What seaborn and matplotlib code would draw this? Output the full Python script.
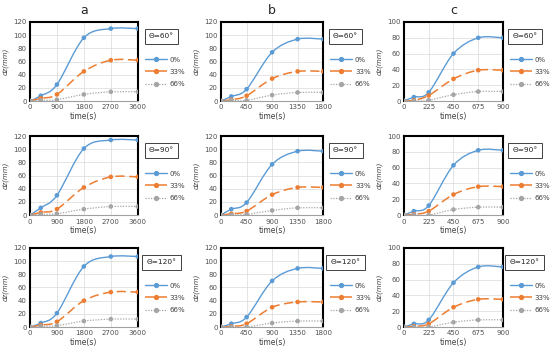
import numpy as np
import pandas as pd
import seaborn as sns
import matplotlib
matplotlib.use("Agg")
import matplotlib.pyplot as plt
from matplotlib.path import Path
from matplotlib.patches import PathPatch
from matplotlib.lines import Line2D

sns.set_theme(style="white")
plt.rcParams['font.family'] = ['DejaVu Sans']

column_titles = ["a", "b", "c"]
angles = ["Θ=60°", "Θ=90°", "Θ=120°"]
series_names = ["0%", "33%", "66%"]
time_a = [0, 360, 900, 1800, 2700, 3600]
time_b = [0, 180, 450, 900, 1350, 1800]
time_c = [0, 90, 225, 450, 675, 900]
xticks_a = [0, 900, 1800, 2700, 3600]
xticks_b = [0, 450, 900, 1350, 1800]
xticks_c = [0, 225, 450, 675, 900]

# row: theta=60
a60_0 = [0, 8, 25, 96, 110, 110]
a60_33 = [0, 4, 10, 45, 62, 62]
a60_66 = [0, 1, 2, 10, 14, 14]
b60_0 = [0, 7, 18, 74, 94, 94]
b60_33 = [0, 2, 8, 34, 45, 45]
b60_66 = [0, 1, 1, 9, 13, 13]
c60_0 = [0, 5, 11, 60, 80, 80]
c60_33 = [0, 1, 7, 28, 39, 39]
c60_66 = [0, 0, 1, 8, 12, 12]
# row: theta=90
a90_0 = [0, 11, 30, 101, 114, 114]
a90_33 = [0, 4, 9, 42, 58, 58]
a90_66 = [0, 1, 2, 9, 13, 13]
b90_0 = [0, 9, 19, 77, 97, 97]
b90_33 = [0, 2, 6, 31, 42, 42]
b90_66 = [0, 0, 1, 7, 11, 11]
c90_0 = [0, 5, 12, 63, 82, 82]
c90_33 = [0, 1, 5, 26, 36, 36]
c90_66 = [0, 0, 0, 7, 10, 10]
# row: theta=120
a120_0 = [0, 6, 21, 92, 107, 107]
a120_33 = [0, 3, 8, 40, 53, 53]
a120_66 = [0, 1, 2, 9, 12, 12]
b120_0 = [0, 5, 15, 70, 89, 89]
b120_33 = [0, 1, 5, 30, 38, 38]
b120_66 = [0, 0, 0, 6, 9, 9]
c120_0 = [0, 4, 9, 56, 76, 76]
c120_33 = [0, 1, 4, 25, 35, 35]
c120_66 = [0, 0, 0, 6, 9, 9]

grid_data = [
    [(a60_0, a60_33, a60_66), (b60_0, b60_33, b60_66), (c60_0, c60_33, c60_66)],
    [(a90_0, a90_33, a90_66), (b90_0, b90_33, b90_66), (c90_0, c90_33, c90_66)],
    [(a120_0, a120_33, a120_66), (b120_0, b120_33, b120_66), (c120_0, c120_33, c120_66)],
]
times = [time_a, time_b, time_c]
xticks_all = [xticks_a, xticks_b, xticks_c]
ymax_cols = [120, 120, 100]

colors = ["#5B9BD5", "#ED7D31", "#A5A5A5"]
styles = ["-", (0, (6, 3)), (0, (1, 1.2))]
widths = [1.0, 1.1, 0.9]

fig = plt.figure(figsize=(5.5, 3.52), dpi=100)
col_left = [0.0545, 0.402, 0.7345]
col_w = [0.196, 0.1855, 0.18]
row_bottom = [0.713, 0.389, 0.071]
row_h = 0.2245


def smooth_path(x, y):
    # Excel-like smoothed line: Catmull-Rom converted to cubic Bezier
    pts = np.column_stack([x, y]).astype(float)
    n = len(pts)
    verts = [pts[0]]
    codes = [Path.MOVETO]
    for i in range(n - 1):
        p0 = pts[i - 1] if i > 0 else pts[i]
        p1 = pts[i]
        p2 = pts[i + 1]
        p3 = pts[i + 2] if i + 2 < n else pts[i + 1]
        c1 = p1 + (p2 - p0) / 6.0
        c2 = p2 - (p3 - p1) / 6.0
        verts += [c1, c2, p2]
        codes += [Path.CURVE4] * 3
    return Path(verts, codes)


for r in range(3):
    for c in range(3):
        ax = fig.add_axes([col_left[c], row_bottom[r], col_w[c], row_h])
        t = times[c]
        rows = []
        for name, vals in zip(series_names, grid_data[r][c]):
            for ti, v in zip(t, vals):
                rows.append({"time": ti, "dz": v, "series": name})
        df = pd.DataFrame(rows)
        for k, name in enumerate(series_names):
            sub = df[df["series"] == name]
            patch = PathPatch(smooth_path(sub["time"].values, sub["dz"].values),
                              fill=False, edgecolor=colors[k], lw=widths[k],
                              linestyle=styles[k], zorder=3)
            ax.add_patch(patch)
        sns.scatterplot(data=df, x="time", y="dz", hue="series", palette=colors,
                        s=11, edgecolor="none", legend=False, ax=ax, zorder=4)
        xt = xticks_all[c]
        ax.set_xlim(0, xt[-1])
        ax.set_ylim(0, ymax_cols[c])
        ax.set_xticks(xt)
        ax.set_yticks(np.arange(0, ymax_cols[c] + 1, 20))
        ax.grid(True, color="#D9D9D9", lw=0.5)
        ax.tick_params(labelsize=5, length=0, pad=2.5, colors="#505050")
        ax.set_xlabel("time(s)", fontsize=5.5, labelpad=1, color="#404040")
        ax.set_ylabel("dz(mm)", fontsize=5, labelpad=3, color="#404040", style="italic")
        for side in ["top", "left", "right"]:
            ax.spines[side].set_color("black")
            ax.spines[side].set_linewidth(1.5)
        ax.spines["bottom"].set_color("#A0A0A0")
        ax.spines["bottom"].set_linewidth(0.8)
        ax.text(1.22, 0.82, angles[r], transform=ax.transAxes, fontsize=5.3,
                ha="center", va="center", color="#202020",
                bbox=dict(boxstyle="square,pad=0.6", fc="white", ec="#404040", lw=0.7))
        handles = [Line2D([0], [0], color=colors[k], lw=widths[k], linestyle=styles[k],
                          marker="o", markersize=2.8) for k in range(3)]
        ax.legend(handles, series_names, loc="center left", bbox_to_anchor=(1.04, 0.37),
                  frameon=False, fontsize=5, handlelength=3.2, handletextpad=0.4,
                  labelspacing=0.9, borderaxespad=0, labelcolor="#404040")
        if r == 0:
            ax.set_title(column_titles[c], fontsize=9, pad=6)

fig.savefig("out.png", dpi=100)
